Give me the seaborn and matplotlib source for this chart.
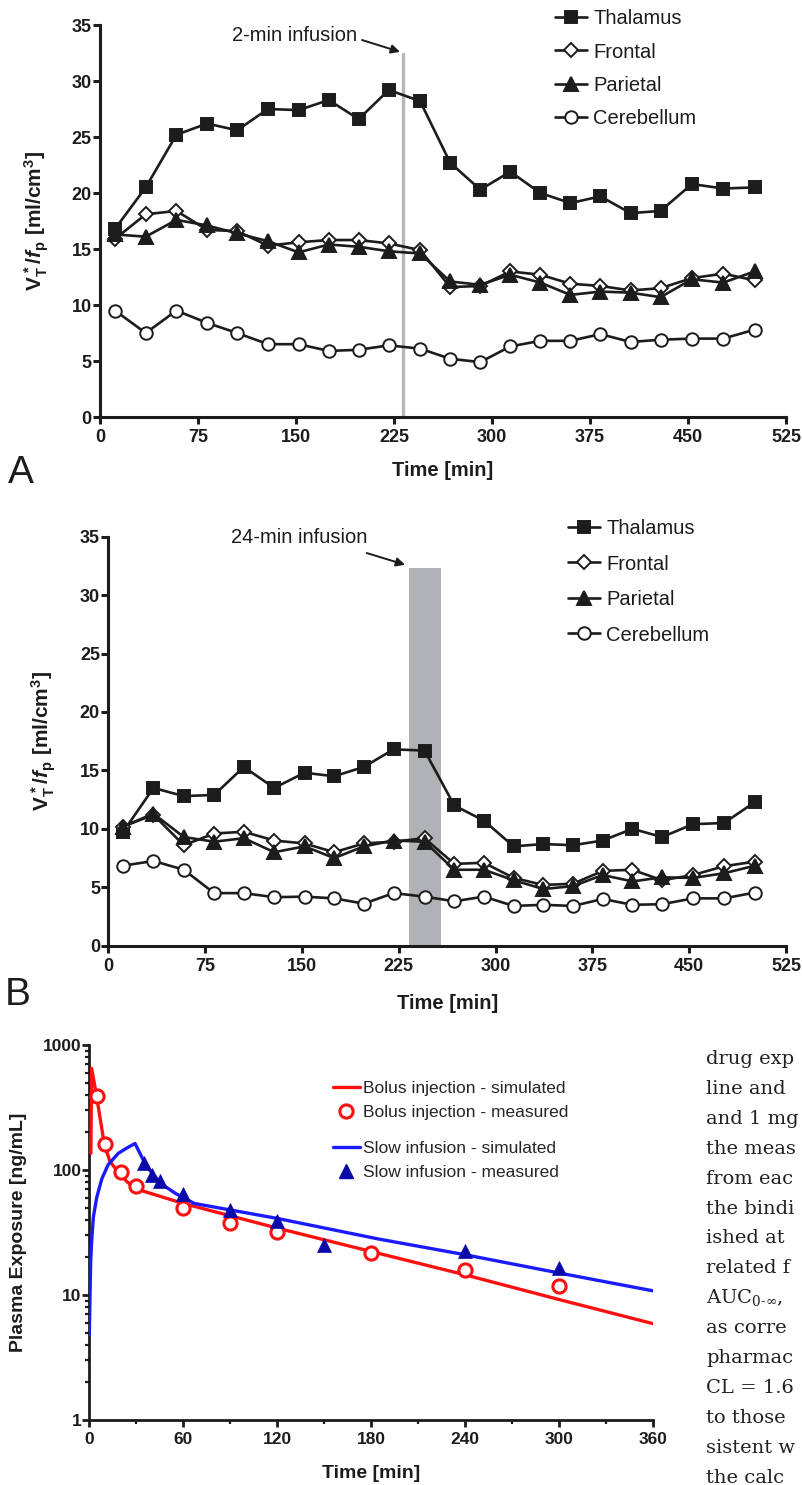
import numpy as np
import pandas as pd
import matplotlib
matplotlib.use("Agg")
import matplotlib.pyplot as plt
import seaborn as sns
from matplotlib.lines import Line2D
from matplotlib.ticker import FixedLocator, NullFormatter, LogLocator

# ---------------- data ----------------
TIME = [11.5, 35, 58.5, 82, 105, 128.5, 152, 175, 198, 221, 245,
        268, 291, 314, 337, 360, 383, 406, 429, 453, 477, 501]
REGIONS = ["Thalamus", "Frontal", "Parietal", "Cerebellum"]

A_THALAMUS = [16.8, 20.5, 25.2, 26.2, 25.6, 27.5, 27.4, 28.3, 26.6, 29.2, 28.2,
              22.7, 20.3, 21.9, 20.0, 19.1, 19.7, 18.2, 18.4, 20.8, 20.4, 20.5]
A_FRONTAL = [15.9, 18.1, 18.4, 16.7, 16.6, 15.3, 15.6, 15.8, 15.8, 15.5, 14.9,
             11.6, 11.7, 13.0, 12.7, 11.9, 11.7, 11.3, 11.5, 12.4, 12.8, 12.2]
A_PARIETAL = [16.3, 16.1, 17.6, 17.1, 16.4, 15.7, 14.7, 15.4, 15.2, 14.8, 14.6,
              12.1, 11.8, 12.7, 12.0, 10.9, 11.2, 11.1, 10.7, 12.3, 12.0, 13.0]
A_CEREBELLUM = [9.5, 7.5, 9.5, 8.4, 7.5, 6.5, 6.5, 5.9, 6.0, 6.4, 6.1,
                5.2, 4.9, 6.3, 6.8, 6.8, 7.4, 6.7, 6.9, 7.0, 7.0, 7.8]

B_THALAMUS = [9.75, 13.5, 12.8, 12.9, 15.3, 13.5, 14.8, 14.5, 15.3, 16.8, 16.7,
              12.0, 10.7, 8.5, 8.7, 8.6, 9.0, 10.0, 9.3, 10.4, 10.5, 12.3]
B_FRONTAL = [10.2, 11.2, 8.6, 9.6, 9.75, 9.0, 8.75, 8.0, 8.75, 8.9, 9.2,
             7.0, 7.1, 5.8, 5.2, 5.3, 6.4, 6.5, 5.6, 6.05, 6.8, 7.2]
B_PARIETAL = [10.2, 11.3, 9.3, 8.9, 9.2, 8.0, 8.5, 7.5, 8.5, 9.0, 8.9,
              6.5, 6.5, 5.6, 4.85, 5.1, 6.05, 5.5, 5.85, 5.8, 6.2, 6.85]
B_CEREBELLUM = [6.85, 7.25, 6.5, 4.5, 4.5, 4.15, 4.2, 4.05, 3.6, 4.5, 4.2,
                3.8, 4.2, 3.4, 3.5, 3.4, 4.0, 3.5, 3.55, 4.05, 4.05, 4.55]

INFUSION_A = 232            # 2-min infusion marker (min)
INFUSION_B = (233, 258)     # 24-min infusion window (min)
INFUSION_TOP = 32.4

X_TICKS_AB = [0, 75, 150, 225, 300, 375, 450, 525]
Y_TICKS_AB = [0, 5, 10, 15, 20, 25, 30, 35]

BOLUS_SIM_T = [1.0, 1.5, 4.7, 9.6, 13.2, 18.5, 23.9, 29.2, 60, 120, 185, 240, 300, 360]
BOLUS_SIM_C = [136, 650, 386, 160, 117, 96, 81, 71, 54, 34.3, 21.5, 14.5, 9.2, 5.9]
SLOW_SIM_T = [0, 0.85, 1.5, 2.6, 4.7, 8, 12, 18.5, 24, 29.2, 34.5, 40, 47, 55, 67,
              120, 185, 240, 300, 360]
SLOW_SIM_C = [4.8, 18, 27, 42, 60, 85, 110, 136, 150, 163, 120, 94, 76, 65, 54,
              41, 28, 21, 15, 10.8]
BOLUS_MEAS_T = [5, 10, 20, 30, 60, 90, 120, 180, 240, 300]
BOLUS_MEAS_C = [391, 160, 97, 75, 50, 37.4, 31.7, 21.5, 15.8, 11.9]
SLOW_MEAS_T = [35, 40, 45, 60, 90, 120, 150, 240, 300]
SLOW_MEAS_C = [113, 91, 81, 64, 48, 39, 25, 22.6, 16.3]

X_TICKS_C = [0, 60, 120, 180, 240, 300, 360]
Y_TICKS_C = [1, 10, 100, 1000]

BODY_TEXT = ["drug exp", "line and", "and 1 mg", "the meas", "from eac",
             "the bindi", "ished at", "related f", r"AUC$_{0\text{-}\infty}$,",
             "as corre", "pharmac", "CL = 1.6", "to those", "sistent w", "the calc"]

# ---------------- style ----------------
sns.set_style("ticks")
plt.rcParams.update({
    "font.family": ["Liberation Sans", "DejaVu Sans"],
    "mathtext.fontset": "custom",
    "mathtext.rm": "Liberation Sans:bold",
    "mathtext.it": "Liberation Sans:italic:bold",
    "mathtext.bf": "Liberation Sans:bold",
    "axes.facecolor": "white",
    "figure.facecolor": "white",
})

INK = "#1c1c1c"
STYLE = {
    "Thalamus": dict(marker="s", ms=9, mfc=INK),
    "Frontal": dict(marker="D", ms=7.6, mfc="white"),
    "Parietal": dict(marker="^", ms=10, mfc=INK),
    "Cerebellum": dict(marker="o", ms=9, mfc="white"),
}
YLABEL_AB = r"$\mathrm{V}_\mathrm{T}^{\,*}/f_\mathrm{p}\ \mathrm{[ml/cm}^\mathrm{3}\mathrm{]}$"

W, H = 802, 1485
fig = plt.figure(figsize=(W / 100, H / 100), dpi=100)


def px_axes(l, t, r, b):
    return fig.add_axes([l / W, 1 - b / H, (r - l) / W, (b - t) / H])


def style_axes(ax, lw=2.0, ticklen=5, labelsize=12.5, xpad=3.5, ypad=1.0):
    sns.despine(ax=ax)
    for s in ("left", "bottom"):
        ax.spines[s].set_linewidth(lw)
        ax.spines[s].set_color(INK)
    ax.tick_params(axis="both", which="major", length=ticklen, width=lw,
                   color=INK, labelsize=labelsize, labelcolor=INK)
    ax.tick_params(axis="x", which="major", pad=xpad)
    ax.tick_params(axis="y", which="major", pad=ypad)
    for lab in ax.get_xticklabels() + ax.get_yticklabels():
        lab.set_fontweight("bold")


def region_panel(ax, series):
    for name in REGIONS:
        st = STYLE[name]
        sns.lineplot(x=TIME, y=series[name], ax=ax, color=INK, lw=1.9,
                     marker=st["marker"], markersize=st["ms"],
                     markerfacecolor=st["mfc"], markeredgecolor=INK,
                     markeredgewidth=1.4, zorder=3)
    ax.set_xlim(0, 525)
    ax.set_ylim(0, 35)
    ax.set_xticks(X_TICKS_AB)
    ax.set_yticks(Y_TICKS_AB)
    ax.set_xticklabels([str(v) for v in X_TICKS_AB])
    ax.set_yticklabels([str(v) for v in Y_TICKS_AB])
    style_axes(ax, lw=2.2, ticklen=5, labelsize=13)
    ax.set_ylabel(YLABEL_AB, fontsize=15, color=INK)
    ax.set_xlabel("Time [min]", fontsize=14.5, fontweight="bold", color=INK)


def region_legend(ax, x_px, top_px, spacing):
    handles = []
    for name in REGIONS:
        st = STYLE[name]
        handles.append(Line2D([0], [0], color=INK, lw=1.9, marker=st["marker"],
                              markersize=st["ms"], markerfacecolor=st["mfc"],
                              markeredgecolor=INK, markeredgewidth=1.4))
    leg = ax.legend(handles, REGIONS, loc="upper left",
                    bbox_to_anchor=(x_px / W, 1 - top_px / H),
                    bbox_transform=fig.transFigure, frameon=False, fontsize=14.5,
                    handlelength=1.6, handletextpad=0.3, labelspacing=spacing,
                    borderpad=0, borderaxespad=0, numpoints=1)
    for t in leg.get_texts():
        t.set_color(INK)
    return leg


# ---------------- panel A ----------------
axA = px_axes(100, 25, 786, 417)
region_panel(axA, dict(zip(REGIONS, [A_THALAMUS, A_FRONTAL, A_PARIETAL, A_CEREBELLUM])))
axA.plot([INFUSION_A, INFUSION_A], [0, INFUSION_TOP], color="#b6b6b6", lw=2.4, zorder=2)
axA.annotate("", xy=(229.6, 32.6), xytext=(200.5, 33.66),
             arrowprops=dict(arrowstyle="-|>", color=INK, lw=1.4,
                             mutation_scale=13, shrinkA=0, shrinkB=0))
axA.text(196.5, 34.1, "2-min infusion", ha="right", va="center", fontsize=14.5, color=INK)
axA.yaxis.set_label_coords(-0.072, 0.5)
axA.xaxis.set_label_coords(0.5, -0.112)
region_legend(axA, 555, 9, 0.72)
fig.text(8 / W, 1 - 483 / H, "A", fontsize=28, color=INK, ha="left", va="baseline")

# ---------------- panel B ----------------
axB = px_axes(108.3, 536.7, 786, 945.7)
region_panel(axB, dict(zip(REGIONS, [B_THALAMUS, B_FRONTAL, B_PARIETAL, B_CEREBELLUM])))
axB.fill_between(list(INFUSION_B), [0, 0], [INFUSION_TOP - 0.1] * 2,
                 color="#b1b2b6", lw=0, zorder=1)
axB.annotate("", xy=(229.9, 32.6), xytext=(200.2, 33.6),
             arrowprops=dict(arrowstyle="-|>", color=INK, lw=1.4,
                             mutation_scale=13, shrinkA=0, shrinkB=0))
axB.text(201, 34.9, "24-min infusion", ha="right", va="center", fontsize=14.5, color=INK)
axB.yaxis.set_label_coords(-0.074, 0.5)
axB.xaxis.set_label_coords(0.5, -0.117)
region_legend(axB, 568, 519, 0.82)
fig.text(5 / W, 1 - 1005 / H, "B", fontsize=28, color=INK, ha="left", va="baseline")

# ---------------- panel C ----------------
RED = "#ff1010"
BLUE = "#1a1aff"
NAVY = "#0a0aa8"
axC = px_axes(89.3, 1045, 653, 1420)
axC.set_yscale("log")
sns.lineplot(x=BOLUS_SIM_T, y=BOLUS_SIM_C, ax=axC, color=RED, lw=2.4, zorder=3)
sns.lineplot(x=SLOW_SIM_T, y=SLOW_SIM_C, ax=axC, color=BLUE, lw=2.4, zorder=3)
sns.lineplot(x=BOLUS_MEAS_T, y=BOLUS_MEAS_C, ax=axC, color=RED, linestyle="",
             marker="o", markersize=9.5, markerfacecolor="white",
             markeredgecolor=RED, markeredgewidth=2.2, zorder=4)
sns.lineplot(x=SLOW_MEAS_T, y=SLOW_MEAS_C, ax=axC, color=NAVY, linestyle="",
             marker="^", markersize=10, markerfacecolor=NAVY,
             markeredgecolor=NAVY, markeredgewidth=0.5, zorder=5)
axC.set_xlim(0, 360)
axC.set_ylim(1, 1000)
axC.set_xticks(X_TICKS_C)
axC.set_xticklabels([str(v) for v in X_TICKS_C])
axC.xaxis.set_minor_locator(FixedLocator([30, 90, 150, 210, 270, 330]))
axC.set_yticks(Y_TICKS_C)
axC.set_yticklabels([str(v) for v in Y_TICKS_C])
axC.yaxis.set_minor_locator(LogLocator(base=10, subs=np.arange(2, 10)))
axC.yaxis.set_minor_formatter(NullFormatter())
style_axes(axC, lw=2.0, ticklen=5, labelsize=12.5, xpad=3.5, ypad=0.5)
axC.tick_params(axis="both", which="minor", length=3, width=1.6, color=INK)
axC.set_ylabel("Plasma Exposure [ng/mL]", fontsize=14, fontweight="bold", color=INK)
axC.set_xlabel("Time [min]", fontsize=14, fontweight="bold", color=INK)
axC.yaxis.set_label_coords(-0.111, 0.5)
axC.xaxis.set_label_coords(0.5, -0.12)

h_bs = Line2D([0], [0], color=RED, lw=2.4)
h_bm = Line2D([0], [0], color=RED, linestyle="", marker="o", markersize=9.5,
              markerfacecolor="white", markeredgecolor=RED, markeredgewidth=2.2)
h_ss = Line2D([0], [0], color=BLUE, lw=2.4)
h_sm = Line2D([0], [0], color=NAVY, linestyle="", marker="^", markersize=10,
              markerfacecolor=NAVY, markeredgecolor=NAVY)
leg_kw = dict(loc="upper left", bbox_transform=fig.transFigure, frameon=False,
              fontsize=12.5, handlelength=1.55, handletextpad=0.2,
              labelspacing=0.52, borderpad=0, borderaxespad=0, numpoints=1)
leg1 = axC.legend([h_bs, h_bm], ["Bolus injection - simulated", "Bolus injection - measured"],
                  bbox_to_anchor=(333 / W, 1 - 1081 / H), **leg_kw)
axC.add_artist(leg1)
axC.legend([h_ss, h_sm], ["Slow infusion - simulated", "Slow infusion - measured"],
           bbox_to_anchor=(333 / W, 1 - 1141 / H), **leg_kw)

# ---------------- cropped body text on the right ----------------
for i, line in enumerate(BODY_TEXT):
    fig.text(706 / W, 1 - (1064 + 29.9 * i) / H, line, fontsize=14,
             family="DejaVu Serif", math_fontfamily="dejavuserif",
             color="#231f20", ha="left", va="baseline")

fig.savefig("out.png", dpi=100)
